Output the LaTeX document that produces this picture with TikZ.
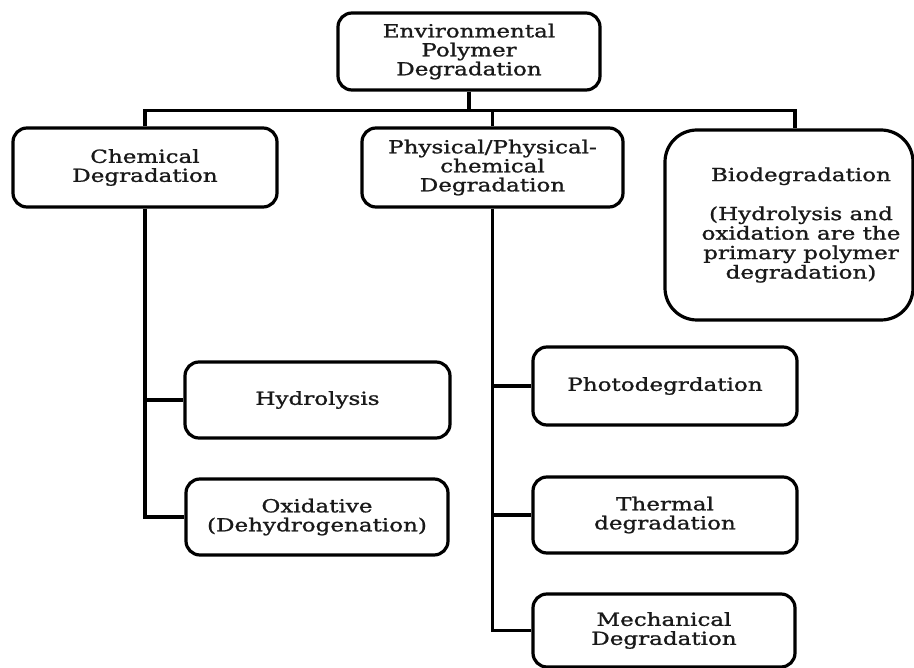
\documentclass[tikz,border=0pt]{standalone}
\usepackage{fontspec}
\setmainfont{DejaVu Serif}[FakeStretch=1.28,FakeBold=1.2]
\begin{document}
\begin{tikzpicture}[x=1pt,y=-1pt,
  box/.style={draw=black, line width=3.2pt, rounded corners=14pt, align=center,
    text=black!90, font=\fontsize{18}{19}\selectfont, inner sep=0pt},
  bigbox/.style={box, rounded corners=32pt},
  txt/.style={align=center, text=black!90, font=\fontsize{18}{19.5}\selectfont, inner sep=0pt},
  conn/.style={draw=black, line width=3.2pt}]
\useasboundingbox (0,0) rectangle (914,668);
\node[box, minimum width=262pt, minimum height=77pt] (top) at (469,51.5) {Environmental\\Polymer\\Degradation};
\node[box, minimum width=264pt, minimum height=79pt] (chem) at (145,167.5) {Chemical\\Degradation};
\node[box, minimum width=261pt, minimum height=79pt] (phys) at (492.5,167.5) {Physical/Physical-\\chemical\\Degradation};
\node[bigbox, minimum width=248pt, minimum height=190pt] (bio) at (789,225) {};
\node[txt] (biotxt) at ([xshift=12pt]bio.center) {Biodegradation\\[19.5pt](Hydrolysis and\\oxidation are the\\primary polymer\\degradation)};
\node[box, minimum width=265pt, minimum height=76pt] (hydro) at (317.5,400) {Hydrolysis};
\node[box, minimum width=262pt, minimum height=76pt] (oxid) at (317,517) {Oxidative\\(Dehydrogenation)};
\node[box, minimum width=264pt, minimum height=78pt] (photo) at (665,386) {Photodegrdation};
\node[box, minimum width=264pt, minimum height=76pt] (therm) at (665,515) {Thermal\\degradation};
\node[box, minimum width=262pt, minimum height=73pt] (mech) at (664,630.5) {Mechanical\\Degradation};
\coordinate (bar) at (0,110.5);
\draw[conn] (top.south) -- (top.south |- bar);
\draw[conn] (chem.north) |- ([xshift=6pt]bio.north |- bar) -- ([xshift=6pt]bio.north);
\draw[conn] (phys.north) -- (phys.north |- bar);
\draw[conn] (chem.south) |- (oxid.west);
\draw[conn] (chem.south |- hydro.west) -- (hydro.west);
\draw[conn] (phys.south) |- (mech.west);
\draw[conn] (phys.south |- photo.west) -- (photo.west);
\draw[conn] (phys.south |- therm.west) -- (therm.west);
\end{tikzpicture}
\end{document}
